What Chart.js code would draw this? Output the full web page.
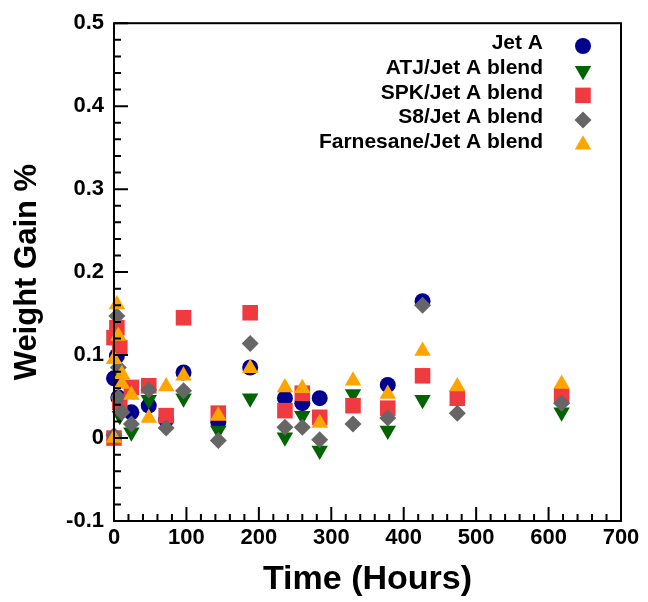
<!DOCTYPE html>
<html><head><meta charset="utf-8">
<script src="https://cdn.jsdelivr.net/npm/chart.js@4/dist/chart.umd.min.js"></script>
<style>html,body{margin:0;padding:0;background:#fff}canvas{display:block}</style>
</head><body>
<canvas id="c" width="648" height="602"></canvas>
<script>
// Weight gain (%) of elastomer samples soaked in each fuel, vs. soak time (hours)
const seriesNames = ['Jet A', 'ATJ/Jet A blend', 'SPK/Jet A blend', 'S8/Jet A blend', 'Farnesane/Jet A blend'];

const jetATime = [0, 4, 6, 24, 48, 72, 96, 144, 188, 236, 260, 284, 378, 426];
const jetAGain = [0.072, 0.099, 0.049, 0.031, 0.039, 0.022, 0.079, 0.019, 0.085, 0.048, 0.042, 0.048, 0.064, 0.165];

const atjTime = [0, 8, 24, 48, 96, 144, 188, 236, 260, 284, 330, 378, 426, 618];
const atjGain = [0.0, 0.027, 0.007, 0.046, 0.048, 0.009, 0.048, 0.001, 0.027, -0.015, 0.053, 0.009, 0.046, 0.031];

const spkTime = [0, 0, 4, 8, 8, 24, 48, 72, 96, 144, 188, 236, 260, 284, 330, 378, 426, 474, 618];
const spkGain = [0.0, 0.121, 0.133, 0.109, 0.043, 0.061, 0.063, 0.027, 0.145, 0.030, 0.151, 0.033, 0.054, 0.025, 0.039, 0.036, 0.075, 0.048, 0.051];

const s8Time = [0, 4, 6, 6, 11, 24, 48, 72, 96, 144, 188, 236, 260, 284, 330, 378, 426, 474, 618];
const s8Gain = [0.003, 0.147, 0.085, 0.049, 0.031, 0.017, 0.058, 0.012, 0.057, -0.003, 0.114, 0.013, 0.013, -0.002, 0.017, 0.024, 0.160, 0.030, 0.042];

const farTime = [0, 0, 4, 6, 11, 11, 24, 48, 72, 96, 144, 188, 236, 260, 284, 330, 378, 426, 474, 618];
const farGain = [0.0, 0.095, 0.161, 0.123, 0.077, 0.065, 0.052, 0.024, 0.062, 0.075, 0.027, 0.084, 0.061, 0.060, 0.018, 0.069, 0.053, 0.105, 0.062, 0.065];

const xTickStep = 100, xMinorStep = 20;
const yTickStep = 0.1, yMinorStep = 0.02;

const FONT = '"Liberation Sans", Arial, Helvetica, sans-serif';
const pts = (t, g) => t.map((v, i) => ({x: v, y: g[i]}));

function series(label, t, g, color, style, radius, rotation, order) {
  return {
    label, data: pts(t, g), order,
    pointStyle: style, pointRadius: radius, pointRotation: rotation,
    pointBackgroundColor: color, backgroundColor: color,
    pointBorderWidth: 0, borderWidth: 0, showLine: false, clip: false
  };
}

// frame and inward tick marks, drawn over the markers
const framePlugin = {
  id: 'frame',
  afterDatasetsDraw(chart) {
    const {ctx, chartArea: a, scales: {x, y}} = chart;
    ctx.save();
    ctx.strokeStyle = '#000';
    ctx.lineWidth = 2;
    ctx.beginPath();
    const nx = Math.round((x.max - x.min) / xMinorStep);
    for (let i = 0; i <= nx; i++) {
      const v = x.min + i * xMinorStep;
      const px = x.getPixelForValue(v);
      const len = (i % (xTickStep / xMinorStep) === 0) ? 14 : 7;
      ctx.moveTo(px, a.bottom); ctx.lineTo(px, a.bottom - len);
    }
    const ny = Math.round((y.max - y.min) / yMinorStep);
    for (let i = 0; i <= ny; i++) {
      const v = y.min + i * yMinorStep;
      const py = y.getPixelForValue(v);
      const len = (i % Math.round(yTickStep / yMinorStep) === 0) ? 14 : 7;
      ctx.moveTo(a.left, py); ctx.lineTo(a.left + len, py);
    }
    ctx.stroke();
    ctx.strokeRect(a.left, a.top, a.right - a.left, a.bottom - a.top);
    ctx.restore();
  }
};

// legend: right-aligned labels with the marker to the right of each
const legendPlugin = {
  id: 'sideLegend',
  afterDraw(chart) {
    const {ctx} = chart;
    const textRight = 543, markerX = 583, row0 = 43.5, rowStep = 24.7;
    ctx.save();
    chart.data.datasets.forEach((ds, i) => {
      const yy = row0 + i * rowStep;
      ctx.font = 'bold 21px ' + FONT;
      ctx.textAlign = 'right';
      ctx.textBaseline = 'middle';
      ctx.fillStyle = '#000';
      ctx.fillText(ds.label, textRight, yy);
      ctx.fillStyle = ds.pointBackgroundColor;
      Chart.helpers.drawPoint(ctx, {
        pointStyle: ds.pointStyle, radius: ds.pointRadius,
        rotation: ds.pointRotation, borderWidth: 0
      }, markerX, yy + 2.5);
    });
    ctx.restore();
  }
};

new Chart(document.getElementById('c'), {
  type: 'scatter',
  data: {
    datasets: [
      series(seriesNames[0], jetATime, jetAGain, '#000090', 'circle', 8, 0, 4),
      series(seriesNames[1], atjTime, atjGain, '#006400', 'triangle', 9.5, 180, 3),
      series(seriesNames[2], spkTime, spkGain, '#EF3A3F', 'rect', 11, 0, 2),
      series(seriesNames[3], s8Time, s8Gain, '#666666', 'rectRot', 8.5, 0, 1),
      series(seriesNames[4], farTime, farGain, '#FFA500', 'triangle', 9.5, 0, 0)
    ]
  },
  options: {
    responsive: false,
    animation: false,
    events: [],
    layout: {padding: {top: 21, right: 27, left: 0, bottom: 0}},
    plugins: {legend: {display: false}, tooltip: {enabled: false}},
    scales: {
      x: {
        type: 'linear', min: 0, max: 700,
        grid: {display: false, drawTicks: false},
        border: {display: false},
        ticks: {stepSize: xTickStep, padding: 4, color: '#000',
                font: {family: FONT, size: 22, weight: 'bold'}},
        title: {display: true, text: 'Time (Hours)', color: '#000',
                font: {family: FONT, size: 34, weight: 'bold'}, padding: {top: 0, bottom: 2}},
        afterFit(s) { s.height = 81; }
      },
      y: {
        type: 'linear', min: -0.1, max: 0.5,
        grid: {display: false, drawTicks: false},
        border: {display: false},
        ticks: {stepSize: yTickStep, padding: 10, color: '#000',
                font: {family: FONT, size: 22, weight: 'bold'},
                callback: v => String(Number(v.toFixed(1)))},
        title: {display: true, text: 'Weight Gain %', color: '#000',
                font: {family: FONT, size: 31, weight: 'bold'}, padding: {top: 9, bottom: 0}},
        afterFit(s) { s.width = 114; }
      }
    }
  },
  plugins: [framePlugin, legendPlugin]
});
</script>
</body></html>
